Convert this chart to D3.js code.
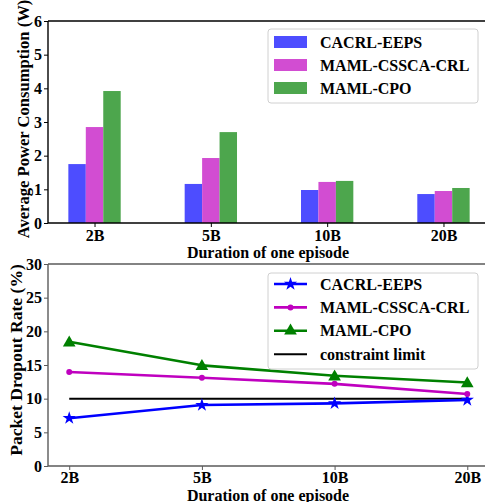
<!DOCTYPE html>
<html>
<head>
<meta charset="utf-8">
<script src="https://cdn.jsdelivr.net/npm/d3@7/dist/d3.min.js"></script>
<style>
  html, body { margin: 0; padding: 0; background: #fff; }
  svg { display: block; }
  text { font-family: "Liberation Serif", "Times New Roman", serif; font-weight: bold; }
</style>
</head>
<body>
<svg id="chart" width="485" height="502"></svg>
<script>
// ---- data ----
const categories = ["2B", "5B", "10B", "20B"];
const seriesNames = ["CACRL-EEPS", "MAML-CSSCA-CRL", "MAML-CPO"];
const powerCACRL = [1.75, 1.16, 0.98, 0.86];
const powerCSSCA = [2.85, 1.93, 1.22, 0.95];
const powerCPO = [3.92, 2.70, 1.25, 1.04];
const dropCACRL = [7.1, 9.05, 9.3, 9.8];
const dropCSSCA = [13.95, 13.1, 12.2, 10.7];
const dropCPO = [18.45, 14.95, 13.4, 12.4];
const constraintLimit = 10;
const powerTicks = [0, 1, 2, 3, 4, 5, 6];
const dropTicks = [0, 5, 10, 15, 20, 25, 30];

const barColors = ["#4d4dff", "#d24dd2", "#4da64d"];
const lineColors = ["#0000ff", "#bf00bf", "#008000"];

const svg = d3.select("#chart");

// ================= Top chart =================
const mT = { left: 48, right: 490, top: 21, bottom: 223 };
const xTop = d3.scaleLinear().domain([-0.4, 3.4]).range([mT.left, mT.right]);
const yTop = d3.scaleLinear().domain([0, 6]).range([mT.bottom, mT.top]);
const barW = xTop(0.15) - xTop(0);
const powerSeries = [powerCACRL, powerCSSCA, powerCPO];

const gTop = svg.append("g");
powerSeries.forEach((vals, si) => {
  gTop.selectAll(null).data(vals).enter().append("rect")
    .attr("x", (d, i) => xTop(i + (si - 1) * 0.15) - barW / 2)
    .attr("width", barW)
    .attr("y", d => yTop(d))
    .attr("height", d => yTop(0) - yTop(d))
    .attr("fill", barColors[si]);
});

const yAxisTop = d3.axisLeft(yTop).tickValues(powerTicks).tickFormat(d3.format("d")).tickSize(4).tickPadding(2);
const gyT = gTop.append("g").attr("transform", `translate(${mT.left},0)`).call(yAxisTop);
const xAxisTop = d3.axisBottom(xTop).tickValues([0, 1, 2, 3]).tickFormat(i => categories[i]).tickSize(4).tickPadding(3);
const gxT = gTop.append("g").attr("transform", `translate(0,${mT.bottom})`).call(xAxisTop);
[gyT, gxT].forEach(g => {
  g.select(".domain").remove();
  g.selectAll("line").attr("stroke", "#000").attr("stroke-width", 1);
  g.selectAll("text").attr("font-size", 16).attr("fill", "#000")
    .style("font-family", '"Liberation Serif", serif').style("font-weight", "bold");
});
[[mT.left, mT.top, mT.left, mT.bottom], [mT.left, mT.bottom, mT.right, mT.bottom],
 [mT.left, mT.top, mT.right, mT.top], [mT.right, mT.top, mT.right, mT.bottom]].forEach(c => {
  gTop.append("line").attr("x1", c[0]).attr("y1", c[1]).attr("x2", c[2]).attr("y2", c[3])
    .attr("stroke", "#000").attr("stroke-width", 1.4);
});

gTop.append("text").attr("transform", `translate(29,119) rotate(-90)`)
  .attr("text-anchor", "middle").attr("font-size", 16.6).text("Average Power Consumption (W)");
gTop.append("text").attr("x", 268).attr("y", 258).attr("text-anchor", "middle").attr("font-size", 16).text("Duration of one episode");

const lgT = gTop.append("g");
lgT.append("rect").attr("x", 268).attr("y", 29).attr("width", 210).attr("height", 74).attr("rx", 3)
  .attr("fill", "#fff").attr("fill-opacity", 0.85).attr("stroke", "#d0d0d0").attr("stroke-width", 1);
seriesNames.forEach((name, i) => {
  const cy = 42 + i * 23;
  lgT.append("rect").attr("x", 274).attr("y", cy - 6).attr("width", 33).attr("height", 12).attr("fill", barColors[i]);
  lgT.append("text").attr("x", 320).attr("y", cy + 5.5).attr("font-size", 16).text(name);
});

// ================= Bottom chart =================
const mB = { left: 48, right: 488.5, top: 264, bottom: 466 };
const xBot = d3.scaleLinear().domain([-0.16, 3.16]).range([mB.left, mB.right]);
const yBot = d3.scaleLinear().domain([0, 30]).range([mB.bottom, mB.top]);
const gBot = svg.append("g");
const spineGray = "#5a5a5a";

const yAxisBot = d3.axisLeft(yBot).tickValues(dropTicks).tickFormat(d3.format("d")).tickSize(4).tickPadding(2);
const gyB = gBot.append("g").attr("transform", `translate(${mB.left},0)`).call(yAxisBot);
const xAxisBot = d3.axisBottom(xBot).tickValues([0, 1, 2, 3]).tickFormat(i => categories[i]).tickSize(4).tickPadding(2);
const gxB = gBot.append("g").attr("transform", `translate(0,${mB.bottom})`).call(xAxisBot);
[gyB, gxB].forEach(g => {
  g.select(".domain").remove();
  g.selectAll("line").attr("stroke", spineGray).attr("stroke-width", 1);
  g.selectAll("text").attr("font-size", 16).attr("fill", "#000")
    .style("font-family", '"Liberation Serif", serif').style("font-weight", "bold");
});
[[mB.left, mB.top, mB.left, mB.bottom], [mB.left, mB.bottom, mB.right, mB.bottom],
 [mB.left, mB.top, mB.right, mB.top], [mB.right, mB.top, mB.right, mB.bottom]].forEach(c => {
  gBot.append("line").attr("x1", c[0]).attr("y1", c[1]).attr("x2", c[2]).attr("y2", c[3])
    .attr("stroke", spineGray).attr("stroke-width", 1.4);
});

gBot.append("line").attr("x1", xBot(0)).attr("x2", xBot(3))
  .attr("y1", yBot(constraintLimit)).attr("y2", yBot(constraintLimit))
  .attr("stroke", "#000").attr("stroke-width", 2);

const dropSeries = [dropCACRL, dropCSSCA, dropCPO];
const symbols = [d3.symbolStar, d3.symbolCircle, d3.symbolTriangle];
const symSizes = [55, 28, 70];
const line = d3.line().x((d, i) => xBot(i)).y(d => yBot(d));
dropSeries.forEach((vals, si) => {
  gBot.append("path").attr("d", line(vals)).attr("fill", "none")
    .attr("stroke", lineColors[si]).attr("stroke-width", 2.6).attr("stroke-linejoin", "round");
  gBot.selectAll(null).data(vals).enter().append("path")
    .attr("d", d3.symbol().type(symbols[si]).size(symSizes[si]))
    .attr("transform", (d, i) => `translate(${xBot(i)},${yBot(d) + (si === 2 ? 1 : 0)})`)
    .attr("fill", lineColors[si]);
});

gBot.append("text").attr("transform", `translate(22,360) rotate(-90)`)
  .attr("text-anchor", "middle").attr("font-size", 17.6).text("Packet Dropout Rate (%)");
gBot.append("text").attr("x", 268).attr("y", 500.5).attr("text-anchor", "middle").attr("font-size", 16).text("Duration of one episode");

const lgB = gBot.append("g");
lgB.append("rect").attr("x", 268).attr("y", 273).attr("width", 210).attr("height", 96).attr("rx", 3)
  .attr("fill", "#fff").attr("fill-opacity", 0.85).attr("stroke", "#d0d0d0").attr("stroke-width", 1);
const legNames = seriesNames.concat(["constraint limit"]);
legNames.forEach((name, i) => {
  const cy = 284 + i * 23.4;
  const col = i < 3 ? lineColors[i] : "#000";
  lgB.append("line").attr("x1", 274).attr("x2", 307).attr("y1", cy).attr("y2", cy)
    .attr("stroke", col).attr("stroke-width", i < 3 ? 2.6 : 2);
  if (i < 3) {
    lgB.append("path").attr("d", d3.symbol().type(symbols[i]).size(symSizes[i]))
      .attr("transform", `translate(290.5,${cy})`).attr("fill", col);
  }
  lgB.append("text").attr("x", 320).attr("y", cy + 5.5).attr("font-size", 16).text(name);
});
</script>
</body>
</html>
